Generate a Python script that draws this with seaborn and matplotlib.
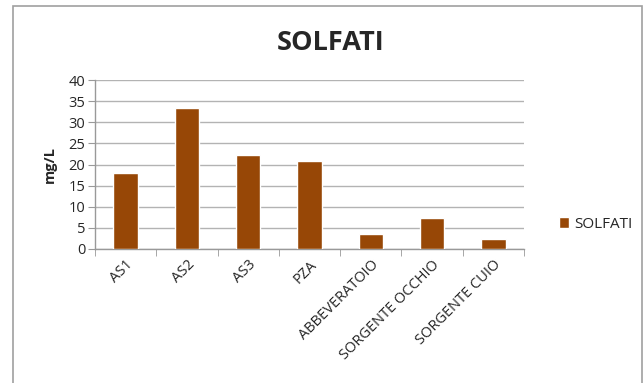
import numpy as np
import pandas as pd
import matplotlib
matplotlib.use('Agg')
import matplotlib.pyplot as plt
import seaborn as sns

# data
sites = ['AS1', 'AS2', 'AS3', 'PZA', 'ABBEVERATOIO', 'SORGENTE OCCHIO', 'SORGENTE CUIO']
solfati = [18.0, 33.4, 22.2, 20.8, 3.6, 7.3, 2.4]
y_ticks = [0, 5, 10, 15, 20, 25, 30, 35, 40]

df = pd.DataFrame({'sito': sites, 'SOLFATI': solfati})

sns.set_style('white')
plt.rcParams['font.family'] = ['Open Sans', 'DejaVu Sans']

W, H = 643, 383
fig = plt.figure(figsize=(W / 100, H / 100), dpi=100)
ax = fig.add_axes([95 / W, 1 - 249 / H, (524 - 95) / W, (249 - 80) / H])

sns.barplot(data=df, x='sito', y='SOLFATI', color='#974706', width=0.4,
            saturation=1, ax=ax, label='SOLFATI', zorder=3)

ax.set_ylim(0, 40)
ax.set_xlim(-0.5, len(sites) - 0.5)
ax.set_yticks(y_ticks)
ax.set_yticklabels([str(v) for v in y_ticks], fontsize=10.5)
ax.yaxis.grid(True, color='#b3b3b3', linewidth=1)
ax.set_axisbelow(True)

# category labels, ticks at the boundaries between categories
ax.set_xticks(range(len(sites)))
ax.set_xticklabels(sites, rotation=45, ha='right', rotation_mode='anchor', fontsize=10.5)
ax.tick_params(axis='x', length=0, pad=6)
ax.set_xticks(np.arange(-0.5, len(sites), 1), minor=True)
ax.tick_params(axis='x', which='minor', length=5, color='#999999', direction='out')
ax.tick_params(axis='y', length=5, color='#999999', direction='out', pad=2)
ax.xaxis.set_tick_params(bottom=True, which='minor')
ax.yaxis.set_tick_params(left=True)

for s in ['top', 'right']:
    ax.spines[s].set_visible(False)
for s in ['left', 'bottom']:
    ax.spines[s].set_color('#999999')
    ax.spines[s].set_linewidth(1)

ax.set_xlabel('')
ax.set_ylabel('mg/L', fontsize=10.5, fontweight='bold', labelpad=8)

ax.legend(loc='center left', bbox_to_anchor=(551 / W, 1 - 224 / H),
          bbox_transform=fig.transFigure, frameon=False, fontsize=11,
          handlelength=0.7, handleheight=0.7, handletextpad=0.3, borderpad=0)

fig.text(331 / W, 1 - 43 / H, 'SOLFATI', fontsize=19.5, fontweight='bold',
         ha='center', va='center')

# chart frame
fr = plt.Rectangle((12.5 / W, -0.05), (641.5 - 12.5) / W, 1.05 - 6.5 / H,
                   transform=fig.transFigure, fill=False, edgecolor='#a0a0a0',
                   linewidth=1.2)
fig.patches.append(fr)

fig.savefig('out.png', dpi=100)
